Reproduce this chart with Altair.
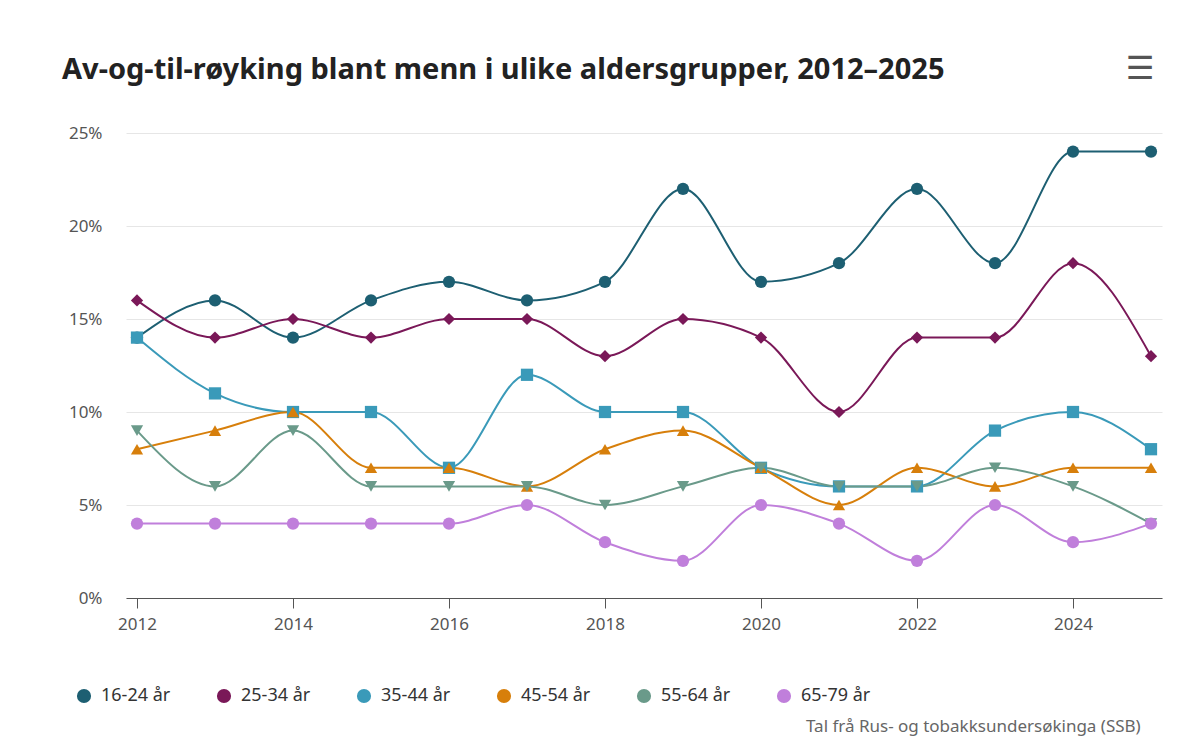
import altair as alt
import pandas as pd

years = list(range(2012, 2026))
groups = ["16-24 år", "25-34 år", "35-44 år", "45-54 år", "55-64 år", "65-79 år"]
v_16_24 = [14, 16, 14, 16, 17, 16, 17, 22, 17, 18, 22, 18, 24, 24]
v_25_34 = [16, 14, 15, 14, 15, 15, 13, 15, 14, 10, 14, 14, 18, 13]
v_35_44 = [14, 11, 10, 10, 7, 12, 10, 10, 7, 6, 6, 9, 10, 8]
v_45_54 = [8, 9, 10, 7, 7, 6, 8, 9, 7, 5, 7, 6, 7, 7]
v_55_64 = [9, 6, 9, 6, 6, 6, 5, 6, 7, 6, 6, 7, 6, 4]
v_65_79 = [4, 4, 4, 4, 4, 5, 3, 2, 5, 4, 2, 5, 3, 4]
series = [v_16_24, v_25_34, v_35_44, v_45_54, v_55_64, v_65_79]

colors = ["#1d5f72", "#7a1858", "#3a9ab9", "#d77f0b", "#6a9a8a", "#c07fdb"]
shapes = ["circle", "diamond", "square", "triangle-up", "triangle-down", "circle"]

x_ticks = [2012, 2014, 2016, 2018, 2020, 2022, 2024]
y_ticks = [0, 5, 10, 15, 20, 25]

title_text = "Av-og-til-røyking blant menn i ulike aldersgrupper, 2012–2025"
credit_text = "Tal frå Rus- og tobakksundersøkinga (SSB)"

rows = []
for g, vals in zip(groups, series):
    for y, v in zip(years, vals):
        rows.append({"year": y, "group": g, "marker": g, "value": v})
df = pd.DataFrame(rows)

FONT = "Noto Sans"

x_enc = alt.X("year:Q", scale=alt.Scale(domain=[2011.859, 2025.141], nice=False, zero=False),
              axis=alt.Axis(values=x_ticks, format="d", title=None, grid=False,
                            domain=True, domainColor="#555", ticks=True, tickColor="#555",
                            tickSize=10, labelPadding=8, labelFontSize=17, labelColor="#555",
                            labelFont=FONT))
y_enc = alt.Y("value:Q", scale=alt.Scale(domain=[0, 25], nice=False),
              axis=alt.Axis(values=y_ticks, labelExpr="datum.value + '%'", title=None,
                            domain=False, ticks=False, labelPadding=24, grid=True,
                            gridColor="#e6e6e6", labelFontSize=17, labelColor="#555",
                            labelFont=FONT))
color_scale = alt.Scale(domain=groups, range=colors)
legend = alt.Legend(orient="none", legendX=-51, legendY=554, direction="horizontal",
                    title=None, symbolType="circle", symbolSize=200, symbolStrokeWidth=0,
                    symbolOpacity=1,
                    labelFontSize=18, labelColor="#333", labelFont=FONT,
                    columnPadding=44, labelOffset=8, padding=0)

base = alt.Chart(df)

legend_layer = base.mark_point(filled=True, shape="circle", size=1, opacity=0).encode(
    x=x_enc, y=y_enc,
    color=alt.Color("group:N", scale=color_scale, legend=legend),
)

lines = base.mark_line(interpolate="monotone", strokeWidth=2).encode(
    x=x_enc, y=y_enc,
    color=alt.Color("group:N", scale=color_scale, legend=None),
    detail="group:N",
)

points = base.mark_point(filled=True, size=150, opacity=1).encode(
    x=x_enc, y=y_enc,
    color=alt.Color("group:N", scale=color_scale, legend=None),
    shape=alt.Shape("marker:N", scale=alt.Scale(domain=groups, range=shapes), legend=None),
)

menu = alt.Chart(pd.DataFrame({"t": ["☰"]})).mark_text(
    font="DejaVu Sans", fontSize=32, fontWeight="bold", color="#555", align="center", baseline="middle"
).encode(text="t:N", x=alt.value(1014), y=alt.value(-64))

credit = alt.Chart(pd.DataFrame({"t": [credit_text]})).mark_text(
    font=FONT, fontSize=17, color="#666", align="left", baseline="top"
).encode(text="t:N", x=alt.value(680), y=alt.value(586))

chart = alt.layer(legend_layer, lines, points, menu, credit).resolve_legend(
    color="independent", shape="independent"
).properties(
    width=1036, height=465,
    title=alt.TitleParams(title_text, anchor="start", frame="group", dx=-64, dy=32, offset=0,
                          font=FONT, fontSize=29, fontWeight="bold", color="#222"),
    autosize=alt.AutoSizeParams(type="none"),
    padding={"left": 118, "top": 125, "right": 28, "bottom": 143},
).configure_view(stroke=None)

chart.save("out.html", embed_options={"renderer": "svg", "actions": False})
